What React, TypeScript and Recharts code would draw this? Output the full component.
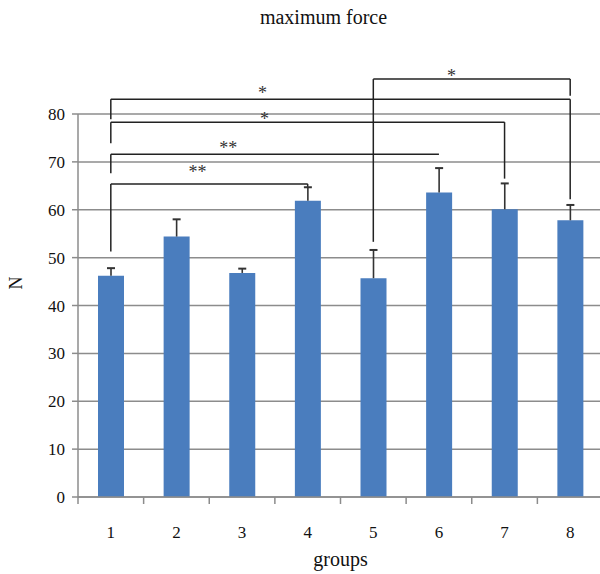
import { Bar, BarChart, CartesianGrid, ReferenceDot, ReferenceLine, XAxis, YAxis } from "recharts";

// values
const groups = [1, 2, 3, 4, 5, 6, 7, 8];
const meanForce = [46.2, 54.4, 46.8, 61.9, 45.7, 63.6, 60.1, 57.8];
const errorPlus = [1.6, 3.6, 0.9, 2.8, 5.9, 5.1, 5.4, 3.2];
const yTicks = [0, 10, 20, 30, 40, 50, 60, 70, 80];

// significance brackets
const bracketFrom = [1, 1, 1, 1, 5];
const bracketTo = [4, 6, 7, 8, 8];
const bracketY = [65.4, 71.6, 78.3, 83.1, 87.3];
const bracketLeftEnd = [51.3, 67.6, 73.9, 78.9, 53.3];
const bracketRightEnd = [64.8, 71.6, 66.5, 62.2, 83.8];
const bracketMark = ["**", "**", "*", "*", "*"];
const markX = [2.32, 2.79, 3.34, 3.31, 6.19];
const markY = [67.9, 72.9, 79.0, 84.4, 88.0];

const data = groups.map((g, i) => ({ group: g, force: meanForce[i], err: errorPlus[i] }));

const CHART_W = 620;
const CHART_H = 574;
const MARGIN = { top: 114, right: 17, bottom: 0, left: 0 };
const Y_AXIS_W = 78;
const HALF_BAND = (CHART_W - MARGIN.right - Y_AXIS_W) / groups.length / 2;

const GRAY = "#8c8c8c";
const BLUE = "#4a7dbe";
const FONT = "'Liberation Serif', 'DejaVu Serif', serif";

const GroupTick = (props: any) => {
  const { x, y, payload } = props;
  return (
    <g>
      <line x1={x - HALF_BAND} y1={y} x2={x - HALF_BAND} y2={y + 7} stroke={GRAY} strokeWidth={1.5} />
      <text x={x} y={y + 41} textAnchor="middle" fontSize={17} fontFamily={FONT} fill="#111">
        {payload.value}
      </text>
    </g>
  );
};

const Whisker = (props: any) => {
  const { x, y, width, height } = props;
  const cx = x + width / 2;
  return (
    <g>
      <line x1={cx} y1={y} x2={cx} y2={y + height} stroke="#333" strokeWidth={1.6} />
      <line x1={cx - 4} y1={y} x2={cx + 4} y2={y} stroke="#333" strokeWidth={2} />
    </g>
  );
};

export default function App() {
  const lineProps = { stroke: "#222", strokeWidth: 1.5, ifOverflow: "visible" as const };

  return (
    <div style={{ position: "absolute", left: 0, top: 0, width: 600, height: 574, overflow: "hidden", background: "#fff", fontFamily: FONT }}>
      <div style={{ position: "absolute", top: 7, left: 0, width: 647, textAlign: "center", fontSize: 20, lineHeight: "20px", color: "#111" }}>
        maximum force
      </div>
      <div style={{ position: "absolute", left: 9, top: 274, width: 14, textAlign: "center", fontSize: 18, lineHeight: "18px", color: "#111", transform: "rotate(-90deg)" }}>
        N
      </div>
      <div style={{ position: "absolute", top: 549, left: 0, width: 681, textAlign: "center", fontSize: 20, lineHeight: "20px", color: "#111" }}>
        groups
      </div>

      <BarChart width={CHART_W} height={CHART_H} data={data} margin={MARGIN}>
        <CartesianGrid vertical={false} stroke={GRAY} strokeWidth={1.5} />
        <XAxis
          dataKey="group"
          type="number"
          domain={[0.5, 8.5]}
          ticks={groups}
          interval={0}
          height={77}
          tickSize={0}
          tickMargin={0}
          tickLine={false}
          axisLine={{ stroke: GRAY, strokeWidth: 1.5 }}
          tick={<GroupTick />}
        />
        <YAxis
          domain={[0, 80]}
          ticks={yTicks}
          width={Y_AXIS_W}
          tickSize={6}
          tickMargin={7}
          tickLine={{ stroke: GRAY, strokeWidth: 1.5 }}
          axisLine={{ stroke: GRAY, strokeWidth: 1.5 }}
          tick={{ fontSize: 17, fontFamily: FONT, fill: "#111" }}
        />
        <Bar dataKey="force" stackId="a" fill={BLUE} barSize={26} isAnimationActive={false} />
        <Bar dataKey="err" stackId="a" barSize={26} shape={<Whisker />} isAnimationActive={false} />

        {bracketFrom.map((from, i) => (
          <ReferenceLine
            key={`h-${i}`}
            segment={[{ x: from, y: bracketY[i] }, { x: bracketTo[i], y: bracketY[i] }]}
            {...lineProps}
          />
        ))}
        {bracketFrom.map((from, i) => (
          <ReferenceLine
            key={`l-${i}`}
            segment={[{ x: from, y: bracketY[i] }, { x: from, y: bracketLeftEnd[i] }]}
            {...lineProps}
          />
        ))}
        {bracketTo.map((to, i) => (
          <ReferenceLine
            key={`r-${i}`}
            segment={[{ x: to, y: bracketY[i] }, { x: to, y: bracketRightEnd[i] }]}
            {...lineProps}
          />
        ))}
        {bracketMark.map((m, i) => (
          <ReferenceDot
            key={`m-${i}`}
            x={markX[i]}
            y={markY[i]}
            r={0}
            fill="none"
            stroke="none"
            ifOverflow="visible"
            label={{ value: m, position: "center", fontSize: 18, fontFamily: FONT, fill: "#333" }}
          />
        ))}
      </BarChart>
    </div>
  );
}
